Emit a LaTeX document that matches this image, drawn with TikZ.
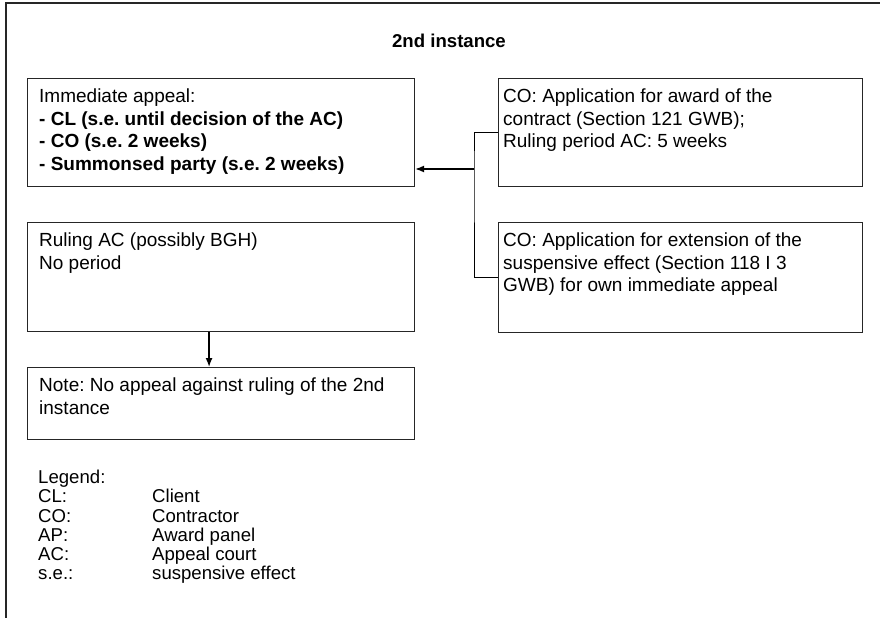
\documentclass[tikz,border=0pt]{standalone}
\usepackage{fontspec}
\setmainfont{Liberation Sans}
\usepackage{tikz}
\usetikzlibrary{arrows.meta, positioning}
\frenchspacing

\begin{document}
\begin{tikzpicture}[x=1pt, y=-1pt, >={Latex[length=9pt,width=7pt]},
  panel/.style={draw=black!85, line width=1.1pt, anchor=north west, inner sep=0pt},
  paneltext/.style={inner sep=0pt, align=left, font=\fontsize{19}{22.5}\selectfont},
  legendrow/.style={anchor=base west, inner sep=0pt, font=\fontsize{18.6}{22.5}\selectfont},
  link/.style={draw=black, line width=1.2pt}]
  \useasboundingbox (0,0) rectangle (880,618);
  % frame, open to the right and bottom
  \draw[black!85, line width=1.8pt] (880,3) -- (6,3) -- (6,618);
  \node[font=\bfseries\fontsize{18.6}{22}\selectfont] (title) at (449,41) {2nd instance};

  \node[panel, minimum width=387pt, minimum height=108pt] (appeal) at (27,78) {};
  \node[panel, minimum width=364pt, minimum height=108pt] (award) at (498,78) {};
  \node[panel, minimum width=364pt, minimum height=110pt] (extension) at (498,222) {};
  \node[panel, minimum width=387pt, minimum height=109pt] (ruling) at (27,222) {};
  \node[panel, minimum width=387pt, minimum height=72pt] (note) at (27,367) {};

  \node[paneltext, below right=11pt and 12pt of appeal.north west] (appealtxt)
    {Immediate appeal:\\
     \textbf{- CL (s.e. until decision of the AC)}\\
     \textbf{- CO (s.e. 2 weeks)}\\
     \textbf{- Summonsed party (s.e. 2 weeks)}};
  \node[paneltext, below right=11pt and 5pt of award.north west] (awardtxt)
    {CO: Application for award of the\\
     contract (Section 121 GWB);\\
     Ruling period AC: 5 weeks};
  \node[paneltext, below right=11pt and 5pt of extension.north west] (extensiontxt)
    {CO: Application for extension of the\\
     suspensive effect (Section 118 I 3\\
     GWB) for own immediate appeal};
  \node[paneltext, below right=11pt and 12pt of ruling.north west] (rulingtxt)
    {Ruling AC (possibly BGH)\\
     No period};
  \node[paneltext, below right=11pt and 12pt of note.north west] (notetxt)
    {Note: No appeal against ruling of the 2nd\\
     instance};

  % connectors
  \coordinate (bus) at (474,169);
  \draw[link, line width=1pt] (award.west) -| (bus) |- (extension.west);
  \draw[link, line width=1.5pt, ->] (bus) -- (bus -| appeal.east);
  \draw[link, line width=1.5pt, ->] ([xshift=-12pt]ruling.south) -- ([xshift=-12pt]note.north);

  % legend
  \node[legendrow] (legendhead) at (38,483.7) {Legend:};
  \foreach \abbr/\desc [count=\i] in {CL:/Client, CO:/Contractor, AP:/Award panel,
      AC:/Appeal court, s.e.:/suspensive effect}{
    \node[legendrow] (abbr\i) at (38,483.7+\i*19.2) {\abbr};
    \node[legendrow] (desc\i) at (152,483.7+\i*19.2) {\desc};
  }
\end{tikzpicture}
\end{document}
